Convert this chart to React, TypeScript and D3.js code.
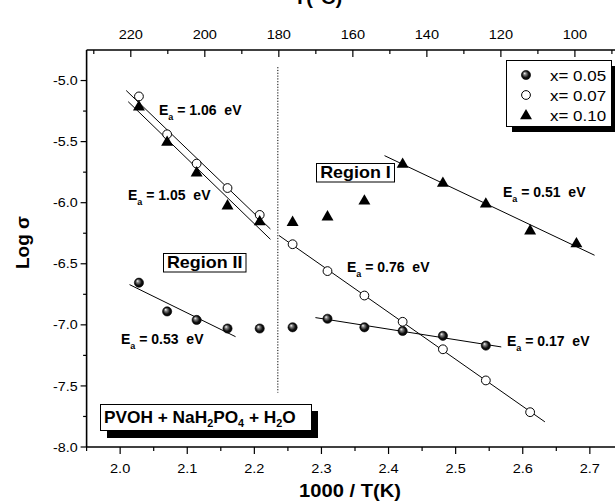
import React from "react";
import * as d3 from "d3";

// ---------- data ----------
// 1000/T(K) positions of the measurements (220 ... 100 °C in 10 °C steps)
const invT = [2.028, 2.070, 2.114, 2.160, 2.208, 2.257, 2.309, 2.364, 2.421, 2.481, 2.545, 2.611, 2.680];
// log sigma for each composition
const logX005 = [-6.655, -6.89, -6.96, -7.03, -7.03, -7.02, -6.95, -7.02, -7.05, -7.09, -7.17];
const logX007 = [-5.13, -5.44, -5.68, -5.88, -6.10, -6.34, -6.56, -6.76, -6.975, -7.20, -7.455, -7.715];
const logX010 = [-5.21, -5.50, -5.75, -6.02, -6.15, -6.155, -6.11, -5.98, -5.68, -5.835, -6.005, -6.225, -6.33];

const seriesNames = ["x= 0.05", "x= 0.07", "x= 0.10"];

// Arrhenius fit segments: which series, which points, x extent, activation energy label
const fitSeries = [1, 2, 0, 1, 0, 2];
const fitFrom = [0, 0, 0, 5, 6, 8];
const fitTo = [4, 4, 3, 11, 10, 12];
const fitXStart = [2.009, 2.012, 2.014, 2.2366, 2.291, 2.394];
const fitXEnd = [2.224, 2.224, 2.172, 2.633, 2.568, 2.707];
const eaValues = ["1.06", "1.05", "0.53", "0.76", "0.17", "0.51"];

// axis ticks
const xMajor = [2.0, 2.1, 2.2, 2.3, 2.4, 2.5, 2.6, 2.7];
const xMinor = [1.95, 2.05, 2.15, 2.25, 2.35, 2.45, 2.55, 2.65, 2.75];
const yMajor = [-8.0, -7.5, -7.0, -6.5, -6.0, -5.5, -5.0];
const yMinor = [-7.75, -7.25, -6.75, -6.25, -5.75, -5.25];
const tMajor = [220, 200, 180, 160, 140, 120, 100];
const tMinor = [230, 210, 190, 170, 150, 130, 110, 90];
const regionBoundaryT = 180;

// ---------- layout ----------
const W = 615, H = 504;
const FONT = "'Liberation Sans', Arial, Helvetica, sans-serif";
const x = d3.scaleLinear().domain([1.95, 2.75]).range([86.6, 623.4]);
const y = d3.scaleLinear().domain([-8, -4.75]).range([447, 50]);
const tTop = d3.scaleLinear().domain([220, 100]).range([130.8, 574.9]);
const X0 = x(1.95), YB = y(-8), YT = y(-4.75);

// label anchors (pixels: left, baseline)
const eaPos: [number, number][] = [
  [159, 114.5], [128, 200], [121, 344], [347, 272], [507, 346], [503, 197],
];

const seriesData = [logX005, logX007, logX010];

function SText(props: any) {
  const { x: tx, y: ty, sx = 1, anchor = "start", size, weight = "normal", children } = props;
  return (
    <text
      transform={`translate(${tx},${ty}) scale(${sx},1)`}
      textAnchor={anchor}
      fontSize={size}
      fontWeight={weight}
      fontFamily={FONT}
      fill="#000"
      style={{ whiteSpace: "pre" }}
    >
      {children}
    </text>
  );
}

function Marker({ kind, cx, cy }: { kind: number; cx: number; cy: number }) {
  if (kind === 0) return <circle cx={cx} cy={cy} r={4.6} fill="url(#ball)" stroke="#000" strokeWidth={0.6} />;
  if (kind === 1) return <circle cx={cx} cy={cy} r={4.4} fill="#fff" stroke="#000" strokeWidth={1} />;
  const sym = d3.symbol().type(d3.symbolTriangle).size(62)();
  return <path d={sym as string} transform={`translate(${cx},${cy + 0.8})`} fill="#000" />;
}

function fitLine(i: number) {
  const s = seriesData[fitSeries[i]];
  const xs = invT.slice(fitFrom[i], fitTo[i] + 1);
  const ys = s.slice(fitFrom[i], fitTo[i] + 1);
  const mx = d3.mean(xs)!, my = d3.mean(ys)!;
  let sxy = 0, sxx = 0;
  xs.forEach((v, k) => { sxy += (v - mx) * (ys[k] - my); sxx += (v - mx) * (v - mx); });
  const b = sxy / sxx, a = my - b * mx;
  const line = d3.line<number>().x((v) => x(v)).y((v) => y(a + b * v));
  return line([fitXStart[i], fitXEnd[i]]) as string;
}

export default function App() {
  return (
    <svg width={W} height={H} style={{ position: "absolute", left: 0, top: 0, background: "#fff" }}>
      <defs>
        <radialGradient id="ball" cx="0.5" cy="0.5" r="0.55" fx="0.33" fy="0.3">
          <stop offset="0" stopColor="#fff" />
          <stop offset="0.25" stopColor="#888" />
          <stop offset="0.65" stopColor="#111" />
          <stop offset="1" stopColor="#000" />
        </radialGradient>
      </defs>
      <rect x={0} y={0} width={W} height={H} fill="#fff" />

      {/* axes frame */}
      <line x1={X0} x2={W} y1={YB} y2={YB} stroke="#000" strokeWidth={1.6} />
      <line x1={X0} x2={W} y1={YT} y2={YT} stroke="#000" strokeWidth={1.6} />
      <line x1={X0} x2={X0} y1={YT} y2={YB} stroke="#000" strokeWidth={1.6} />

      {/* bottom ticks */}
      {xMajor.map((v) => (
        <g key={"xm" + v}>
          <line x1={x(v)} x2={x(v)} y1={YB} y2={YB + 7} stroke="#000" strokeWidth={1.2} />
          <SText x={x(v)} y={YB + 26} sx={1.12} anchor="middle" size={13}>{v.toFixed(1)}</SText>
        </g>
      ))}
      {xMinor.map((v) => (
        <line key={"xn" + v} x1={x(v)} x2={x(v)} y1={YB} y2={YB + 4} stroke="#000" strokeWidth={1.2} />
      ))}

      {/* left ticks */}
      {yMajor.map((v) => (
        <g key={"ym" + v}>
          <line x1={X0 - 6} x2={X0} y1={y(v)} y2={y(v)} stroke="#000" strokeWidth={1.2} />
          <SText x={X0 - 9} y={y(v) + 4.6} sx={1.1} anchor="end" size={13}>{v.toFixed(1)}</SText>
        </g>
      ))}
      {yMinor.map((v) => (
        <line key={"yn" + v} x1={X0 - 3.5} x2={X0} y1={y(v)} y2={y(v)} stroke="#000" strokeWidth={1.2} />
      ))}

      {/* top ticks (temperature) */}
      {tMajor.map((v) => (
        <g key={"tm" + v}>
          <line x1={tTop(v)} x2={tTop(v)} y1={YT} y2={YT + 7} stroke="#000" strokeWidth={1.2} />
          <SText x={tTop(v)} y={YT - 11} sx={1.12} anchor="middle" size={13}>{String(v)}</SText>
        </g>
      ))}
      {tMinor.map((v) => (
        <line key={"tn" + v} x1={tTop(v)} x2={tTop(v)} y1={YT} y2={YT + 4} stroke="#000" strokeWidth={1.2} />
      ))}

      {/* axis titles */}
      <SText x={350} y={497} sx={1.12} anchor="middle" size={18} weight="bold">1000 / T(K)</SText>
      <SText x={318} y={4} sx={1.12} anchor="middle" size={18} weight="bold">T(°C)</SText>
      <text
        transform={`translate(29,${(YT + YB) / 2 - 6}) rotate(-90)`}
        textAnchor="middle"
        fontSize={19}
        fontWeight="bold"
        fontFamily={FONT}
      >
        Log σ
      </text>

      {/* region boundary */}
      <line
        x1={tTop(regionBoundaryT) - 1}
        x2={tTop(regionBoundaryT) - 1}
        y1={y(-4.89)}
        y2={y(-7.555)}
        stroke="#000"
        strokeWidth={1}
        strokeDasharray="1.2,1.6"
      />

      {/* fit lines */}
      {eaValues.map((_, i) => (
        <path key={"fit" + i} d={fitLine(i)} fill="none" stroke="#000" strokeWidth={1} />
      ))}

      {/* data markers */}
      {seriesData.map((s, k) => (
        <g key={"s" + k}>
          {s.map((v, j) => (
            <Marker key={j} kind={k} cx={x(invT[j])} cy={y(v)} />
          ))}
        </g>
      ))}

      {/* Ea labels */}
      {eaValues.map((v, i) => (
        <text
          key={"ea" + i}
          x={eaPos[i][0]}
          y={eaPos[i][1]}
          fontSize={14}
          fontWeight="bold"
          fontFamily={FONT}
          xmlSpace="preserve"
          style={{ whiteSpace: "pre" }}
        >
          E
          <tspan fontSize={9} dy={5}>a</tspan>
          <tspan dy={-5}>{` = ${v}  eV`}</tspan>
        </text>
      ))}

      {/* Region boxes */}
      <rect x={163.5} y={253.5} width={82.5} height={18.5} fill="#fff" stroke="#000" strokeWidth={1} />
      <SText x={204.7} y={268} sx={1.12} anchor="middle" size={16} weight="bold">Region II</SText>
      <rect x={316.5} y={163.5} width={78} height={18.5} fill="#fff" stroke="#000" strokeWidth={1} />
      <SText x={355.5} y={178} sx={1.12} anchor="middle" size={16} weight="bold">Region I</SText>

      {/* composition box */}
      <rect x={107} y={411} width={211} height={27} fill="#000" />
      <rect x={100.5} y={404.5} width={211} height={26} fill="#fff" stroke="#000" strokeWidth={1} />
      <text
        transform="translate(104,422.5) scale(1.08,1)"
        fontSize={16}
        fontWeight="bold"
        fontFamily={FONT}
        xmlSpace="preserve"
        style={{ whiteSpace: "pre" }}
      >
        PVOH + NaH
        <tspan fontSize={10} dy={4}>2</tspan>
        <tspan dy={-4}>PO</tspan>
        <tspan fontSize={10} dy={4}>4</tspan>
        <tspan dy={-4}> + H</tspan>
        <tspan fontSize={10} dy={4}>2</tspan>
        <tspan dy={-4}>O</tspan>
      </text>

      {/* legend */}
      <rect x={512} y={66} width={110} height={66} fill="#000" />
      <rect x={506.5} y={60.5} width={105} height={66} fill="#fff" stroke="#000" strokeWidth={1} />
      {seriesNames.map((n, k) => (
        <g key={"lg" + k}>
          <Marker kind={k} cx={526} cy={75 + k * 20} />
          <SText x={550} y={80.5 + k * 20} sx={1.13} size={15}>{n}</SText>
        </g>
      ))}
    </svg>
  );
}
